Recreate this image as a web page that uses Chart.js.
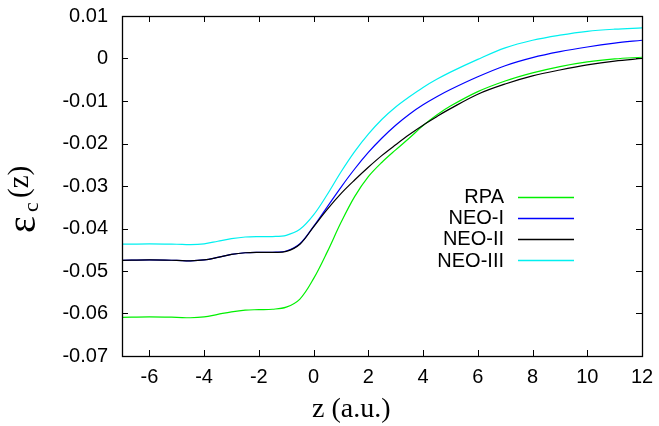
<!DOCTYPE html>
<html>
<head>
<meta charset="utf-8">
<script src="https://cdn.jsdelivr.net/npm/chart.js@4/dist/chart.umd.min.js"></script>
<style>
html,body{margin:0;padding:0;background:#fff;}
#wrap{width:659px;height:426px;position:relative;}
</style>
</head>
<body>
<div id="wrap"><canvas id="c" width="659" height="426"></canvas></div>
<script>
// ---- data ----
const zValues = [-7,-6,-5,-4.5,-4,-3.5,-3,-2.5,-2,-1.5,-1,-0.5,0,0.5,1,1.5,2,2.5,3,3.5,4,4.5,5,6,7,8,9,10,11,12];
const rpa    = [-0.0609,-0.0608,-0.0609,-0.0610,-0.0608,-0.0602,-0.0596,-0.0592,-0.0591,-0.0590,-0.0585,-0.0566,-0.0518,-0.0455,-0.0386,-0.0325,-0.0278,-0.0244,-0.0215,-0.0187,-0.0158,-0.0133,-0.0112,-0.0078,-0.0053,-0.0034,-0.0019,-0.0008,-0.0001,0.0003];
const neo1   = [-0.0475,-0.0474,-0.0475,-0.0476,-0.0474,-0.0468,-0.0461,-0.0457,-0.0456,-0.0456,-0.0453,-0.0436,-0.0395,-0.0349,-0.0303,-0.0260,-0.0221,-0.0187,-0.0157,-0.0131,-0.0109,-0.0090,-0.0073,-0.0043,-0.0017,0.0002,0.0016,0.0027,0.0036,0.0043];
const neo2   = [-0.0475,-0.0474,-0.0475,-0.0476,-0.0474,-0.0468,-0.0461,-0.0457,-0.0456,-0.0456,-0.0454,-0.0437,-0.0396,-0.0355,-0.0318,-0.0286,-0.0256,-0.0228,-0.0203,-0.0179,-0.0157,-0.0137,-0.0118,-0.0084,-0.0060,-0.0041,-0.0027,-0.0015,-0.0006,0.0000];
const neo3   = [-0.0437,-0.0436,-0.0437,-0.0438,-0.0436,-0.0430,-0.0424,-0.0420,-0.0419,-0.0419,-0.0416,-0.0402,-0.0368,-0.0320,-0.0267,-0.0219,-0.0178,-0.0143,-0.0114,-0.0090,-0.0068,-0.0049,-0.0032,-0.0002,0.0025,0.0043,0.0055,0.0064,0.0069,0.0072];
const seriesNames = ['RPA','NEO-I','NEO-II','NEO-III'];
const xTicks = [-6,-4,-2,0,2,4,6,8,10,12];
const yTicks = [-0.07,-0.06,-0.05,-0.04,-0.03,-0.02,-0.01,0,0.01];

// ---- styles ----
const seriesColors = ['#00f000','#0000ff','#000000','#00f0f0'];
const seriesValues = [rpa, neo1, neo2, neo3];

const datasets = seriesNames.map((name, i) => ({
  label: name,
  data: zValues.map((z, k) => ({x: z, y: seriesValues[i][k]})),
  borderColor: seriesColors[i],
  backgroundColor: seriesColors[i],
  borderWidth: 1.2,
  pointRadius: 0,
  fill: false,
  tension: 0.35,
  order: seriesNames.length - i
}));

const framePlugin = {
  id: 'frame',
  afterDraw(chart) {
    const {ctx, chartArea, scales} = chart;
    const {left, right, top, bottom} = chartArea;
    const x = scales.x, y = scales.y;
    ctx.save();
    ctx.strokeStyle = '#000';
    ctx.lineWidth = 1;
    ctx.beginPath();
    const tl = 6;
    xTicks.forEach(v => {
      const px = Math.round(x.getPixelForValue(v)) + 0.5;
      ctx.moveTo(px, bottom); ctx.lineTo(px, bottom - tl);
      ctx.moveTo(px, top); ctx.lineTo(px, top + tl);
    });
    yTicks.forEach(v => {
      const py = Math.round(y.getPixelForValue(v)) + 0.5;
      ctx.moveTo(left, py); ctx.lineTo(left + tl, py);
      ctx.moveTo(right, py); ctx.lineTo(right - tl, py);
    });
    ctx.stroke();
    ctx.lineWidth = 1.3;
    ctx.strokeRect(Math.round(left) + 0.5, Math.round(top) + 0.5, Math.round(right - left), Math.round(bottom - top));

    // legend (gnuplot style: text right-aligned, line sample after)
    ctx.font = '20px "Liberation Sans", Arial, sans-serif';
    ctx.textAlign = 'right';
    ctx.textBaseline = 'middle';
    chart.data.datasets.forEach((ds, i) => {
      const cy = 196.5 + i * 21.2;
      ctx.fillStyle = '#000';
      ctx.fillText(ds.label, 504, cy + 1);
      ctx.strokeStyle = ds.borderColor;
      ctx.lineWidth = 1.3;
      ctx.beginPath();
      ctx.moveTo(518, Math.round(cy) + 0.5);
      ctx.lineTo(574, Math.round(cy) + 0.5);
      ctx.stroke();
    });

    // x axis title
    ctx.fillStyle = '#000';
    ctx.textAlign = 'left';
    ctx.textBaseline = 'alphabetic';
    ctx.font = '28px "Liberation Serif", "Times New Roman", serif';
    ctx.fillText('z (a.u.)', 312, 417);

    // y axis title: epsilon_c(z), rotated
    ctx.rotate(-Math.PI / 2);
    ctx.font = '40px "Liberation Serif", "Times New Roman", serif';
    ctx.fillText('\u03B5', -233, 35);
    ctx.font = '22px "Liberation Serif", "Times New Roman", serif';
    ctx.fillText('c', -212, 38);
    ctx.font = '29px "Liberation Serif", "Times New Roman", serif';
    ctx.fillText('(z)', -198, 28);
    ctx.restore();
  }
};

const tickFont = {family: '"Liberation Sans", Arial, sans-serif', size: 20};

function zeroPad(ax) {
  ax.paddingLeft = 0; ax.paddingRight = 0; ax.paddingTop = 0; ax.paddingBottom = 0;
}

new Chart(document.getElementById('c'), {
  type: 'line',
  data: {datasets},
  options: {
    responsive: false,
    animation: false,
    devicePixelRatio: 1,
    layout: {padding: {left: 0, right: 17, top: 16, bottom: 0}},
    plugins: {legend: {display: false}, tooltip: {enabled: false}},
    scales: {
      x: {
        type: 'linear', min: -7, max: 12,
        grid: {display: false, drawTicks: false},
        border: {display: false},
        afterBuildTicks: ax => { ax.ticks = xTicks.map(v => ({value: v})); },
        afterFit: ax => { ax.height = 70; zeroPad(ax); },
        ticks: {padding: 9, color: '#000', font: tickFont, maxRotation: 0, autoSkip: false,
                callback: v => String(v)}
      },
      y: {
        type: 'linear', min: -0.07, max: 0.01,
        grid: {display: false, drawTicks: false},
        border: {display: false},
        afterBuildTicks: ax => { ax.ticks = yTicks.map(v => ({value: v})); },
        afterFit: ax => { ax.width = 122; zeroPad(ax); },
        ticks: {padding: 14, color: '#000', font: tickFont, autoSkip: false,
                callback: v => (Math.abs(v) < 1e-12 ? '0' : v.toFixed(2))}
      }
    }
  },
  plugins: [framePlugin]
});
</script>
</body>
</html>
